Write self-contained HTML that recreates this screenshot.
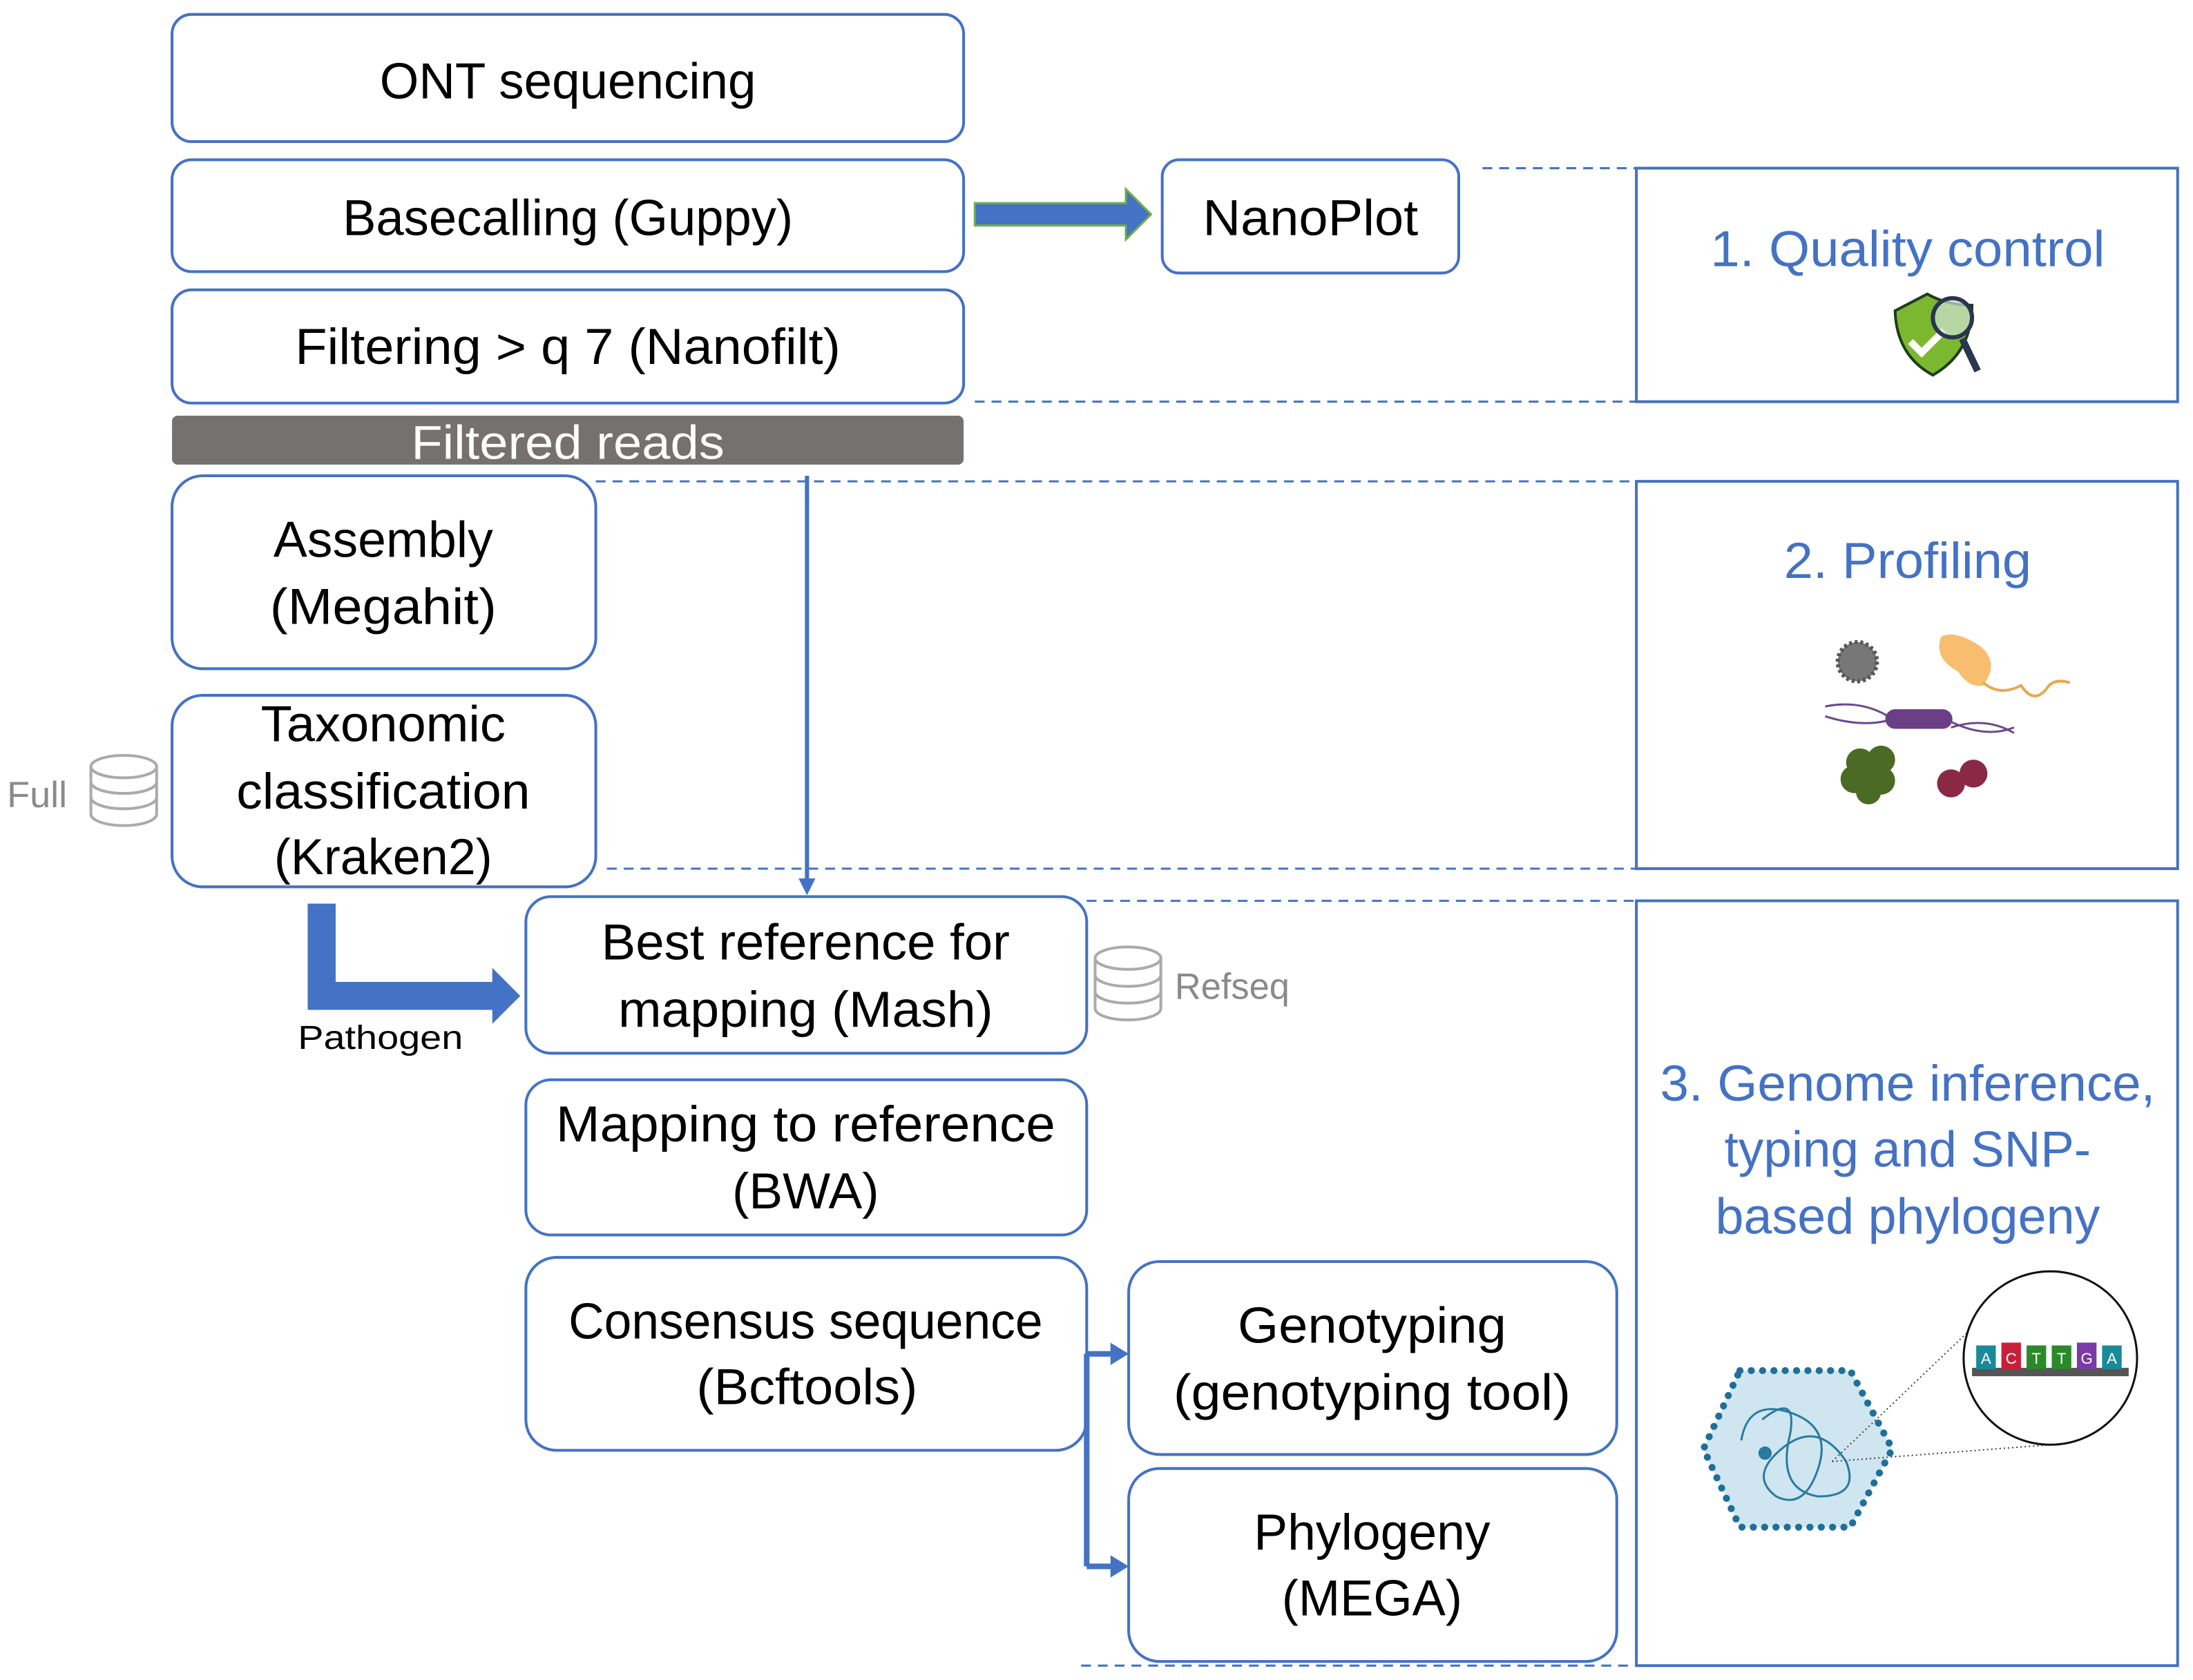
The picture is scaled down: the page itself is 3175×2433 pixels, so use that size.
<!DOCTYPE html>
<html><head><meta charset="utf-8"><style>
html,body{margin:0;padding:0;background:#fff;}
svg{display:block;}
text{font-family:"Liberation Sans",sans-serif;}
</style></head><body>
<svg width="3175" height="2433" viewBox="0 0 1568 1201" xmlns="http://www.w3.org/2000/svg">
<g fill="#fff" stroke="#4472C4" stroke-width="2">
<rect x="123" y="10" width="566" height="91" rx="14"/>
<rect x="123" y="114" width="566" height="80" rx="14"/>
<rect x="123" y="207" width="566" height="81" rx="14"/>
<rect x="123" y="340" width="303" height="138" rx="22"/>
<rect x="123" y="497" width="303" height="137" rx="22"/>
<rect x="376" y="641" width="401" height="112" rx="18"/>
<rect x="376" y="772" width="401" height="111" rx="18"/>
<rect x="376" y="899" width="401" height="138" rx="22"/>
<rect x="807" y="902" width="349" height="138" rx="22"/>
<rect x="807" y="1050" width="349" height="138" rx="22"/>
<rect x="831" y="114" width="212" height="81" rx="12"/>
<rect x="1170" y="120" width="387" height="167" rx="0"/>
<rect x="1170" y="344" width="387" height="277" rx="0"/>
<rect x="1170" y="644" width="387" height="547" rx="0"/>
</g>
<rect x="123" y="297" width="566" height="35" rx="4" fill="#757171"/>
<g stroke="#4472C4" stroke-width="1.5" stroke-dasharray="7,5" fill="none">
<line x1="1060" y1="120" x2="1170" y2="120"/>
<line x1="697" y1="287" x2="1170" y2="287"/>
<line x1="426" y1="344" x2="1170" y2="344"/>
<line x1="434" y1="621" x2="1170" y2="621"/>
<line x1="777" y1="644" x2="1170" y2="644"/>
<line x1="773" y1="1191" x2="1170" y2="1191"/>
</g>
<path d="M697,145 L805,145 L805,135 L823,153 L805,171 L805,161 L697,161 z" fill="#4472C4" stroke="#70AD47" stroke-width="1.5"/>
<line x1="577" y1="340" x2="577" y2="630" stroke="#4472C4" stroke-width="3"/>
<path d="M571,628 L583,628 L577,640 z" fill="#4472C4"/>
<path d="M220,646 L240,646 L240,702 L352,702 L352,692 L372,712 L352,732 L352,722 L220,722 z" fill="#4472C4"/>
<path d="M777,968 L777,1120" stroke="#4472C4" stroke-width="4" fill="none"/>
<path d="M777,968 L796,968" stroke="#4472C4" stroke-width="4"/>
<path d="M794,960 L807,968 L794,976 z" fill="#4472C4"/>
<path d="M777,1120 L796,1120" stroke="#4472C4" stroke-width="4"/>
<path d="M794,1112 L807,1120 L794,1128 z" fill="#4472C4"/>
<g fill="#000" font-size="36" text-anchor="middle">
<text x="406" y="70" textLength="269" lengthAdjust="spacingAndGlyphs">ONT sequencing</text>
<text x="406" y="168" textLength="322" lengthAdjust="spacingAndGlyphs">Basecalling (Guppy)</text>
<text x="406" y="260" textLength="390" lengthAdjust="spacingAndGlyphs">Filtering &gt; q 7 (Nanofilt)</text>
<text x="274" y="398" textLength="157" lengthAdjust="spacingAndGlyphs">Assembly</text>
<text x="274" y="446" textLength="162" lengthAdjust="spacingAndGlyphs">(Megahit)</text>
<text x="274" y="530" textLength="175" lengthAdjust="spacingAndGlyphs">Taxonomic</text>
<text x="274" y="578" textLength="210" lengthAdjust="spacingAndGlyphs">classification</text>
<text x="274" y="625" textLength="156" lengthAdjust="spacingAndGlyphs">(Kraken2)</text>
<text x="576" y="686" textLength="292" lengthAdjust="spacingAndGlyphs">Best reference for</text>
<text x="576" y="734" textLength="268" lengthAdjust="spacingAndGlyphs">mapping (Mash)</text>
<text x="576" y="816" textLength="357" lengthAdjust="spacingAndGlyphs">Mapping to reference</text>
<text x="576" y="864" textLength="105" lengthAdjust="spacingAndGlyphs">(BWA)</text>
<text x="576" y="957" textLength="339" lengthAdjust="spacingAndGlyphs">Consensus sequence</text>
<text x="577" y="1004" textLength="158" lengthAdjust="spacingAndGlyphs">(Bcftools)</text>
<text x="981" y="960" textLength="192" lengthAdjust="spacingAndGlyphs">Genotyping</text>
<text x="981" y="1008" textLength="284" lengthAdjust="spacingAndGlyphs">(genotyping tool)</text>
<text x="981" y="1108" textLength="169" lengthAdjust="spacingAndGlyphs">Phylogeny</text>
<text x="981" y="1155" textLength="129" lengthAdjust="spacingAndGlyphs">(MEGA)</text>
<text x="937" y="168" textLength="154" lengthAdjust="spacingAndGlyphs">NanoPlot</text>
</g>
<text x="406" y="328" font-size="34" fill="#fff" text-anchor="middle" textLength="224" lengthAdjust="spacingAndGlyphs">Filtered reads</text>
<g fill="#4472C4" font-size="36" text-anchor="middle">
<text x="1364" y="190" textLength="282" lengthAdjust="spacingAndGlyphs">1. Quality control</text>
<text x="1364" y="413" textLength="177" lengthAdjust="spacingAndGlyphs">2. Profiling</text>
<text x="1364" y="787" textLength="354" lengthAdjust="spacingAndGlyphs">3. Genome inference,</text>
<text x="1364" y="834" textLength="262" lengthAdjust="spacingAndGlyphs">typing and SNP-</text>
<text x="1364" y="882" textLength="275" lengthAdjust="spacingAndGlyphs">based phylogeny</text>
</g>
<text x="5" y="577" font-size="26" fill="#8a8a8a" textLength="43" lengthAdjust="spacingAndGlyphs">Full</text>
<text x="840" y="714" font-size="26" fill="#8a8a8a" textLength="82" lengthAdjust="spacingAndGlyphs">Refseq</text>
<text x="272" y="750" font-size="24" fill="#000" text-anchor="middle" textLength="118" lengthAdjust="spacingAndGlyphs">Pathogen</text>
<g fill="#fff" stroke="#aaa" stroke-width="2">
<path d="M65,548 v34 a23,8 0 0 0 47,0 v-34"/>
<ellipse cx="88.5" cy="548" rx="23.5" ry="8"/>
<path d="M65,559 a23,8 0 0 0 47,0 M65,570 a23,8 0 0 0 47,0" fill="none"/>
<path d="M783,685 v36 a23,8 0 0 0 47,0 v-36"/>
<ellipse cx="806.5" cy="685" rx="23.5" ry="8"/>
<path d="M783,697 a23,8 0 0 0 47,0 M783,709 a23,8 0 0 0 47,0" fill="none"/>
</g>
<path d="M1355,222 L1378,210 Q1392,218 1410,218 Q1410,252 1382,268 Q1356,254 1355,222 z" fill="#7CB82F" stroke="#1d3d1d" stroke-width="2"/>
<path d="M1366,244 L1374,252 L1390,236" stroke="#fff" stroke-width="5" fill="none"/>
<line x1="1403" y1="242" x2="1414" y2="265" stroke="#2a3550" stroke-width="5"/>
<circle cx="1396" cy="227" r="14" fill="#cfe3d6" fill-opacity="0.7" stroke="#2a3550" stroke-width="3"/>
<circle cx="1328" cy="473" r="14" fill="#777" stroke="#555" stroke-width="3" stroke-dasharray="2,2"/>
<path d="M1388,455 Q1398,450 1416,462 Q1430,474 1418,490 Q1408,492 1400,480 Q1382,470 1388,455z" fill="#F8BD6E"/>
<path d="M1418,488 Q1430,498 1445,490 Q1455,505 1465,490 Q1470,485 1480,488" stroke="#E8A850" stroke-width="2" fill="none"/>
<path d="M1305,505 Q1330,500 1350,512 M1305,512 Q1330,520 1350,515 M1395,520 Q1420,512 1440,524 M1395,516 Q1420,528 1440,520" stroke="#6a4a8a" stroke-width="1.5" fill="none"/>
<rect x="1348" y="507" width="48" height="14" rx="7" fill="#6B3F86"/>
<g fill="#4b6a24"><circle cx="1330" cy="545" r="10"/><circle cx="1345" cy="543" r="10"/><circle cx="1326" cy="557" r="10"/><circle cx="1345" cy="558" r="10"/><circle cx="1336" cy="566" r="9"/><circle cx="1336" cy="552" r="9"/></g>
<g fill="#8B2845"><circle cx="1395" cy="560" r="10"/><circle cx="1411" cy="553" r="10"/></g>
<polygon points="1244,980 1323,980 1353,1036 1323,1092 1244,1092 1218,1036" fill="#cfe6f0" stroke="#1f6f99" stroke-width="5" stroke-dasharray="0.1,8" stroke-linecap="round"/>
<g stroke="#2a7aa0" stroke-width="1.5" fill="none">
<path d="M1245,1030 Q1250,1000 1280,1010 Q1310,1020 1300,1050 Q1290,1080 1270,1070 Q1250,1055 1275,1035 Q1300,1015 1320,1045 Q1330,1070 1300,1070 Q1270,1065 1280,1025 Q1285,995 1260,1015"/>
<circle cx="1262" cy="1039" r="4" fill="#2a7aa0"/>
</g>
<line x1="1310" y1="1045" x2="1420" y2="940" stroke="#444" stroke-width="1" stroke-dasharray="1,2"/>
<line x1="1310" y1="1045" x2="1466" y2="1033" stroke="#444" stroke-width="1" stroke-dasharray="1,2"/>
<circle cx="1466" cy="971" r="62" fill="#fff" stroke="#111" stroke-width="1.5"/>
<rect x="1410" y="978" width="112" height="6" fill="#555"/>
<g font-size="11" text-anchor="middle" fill="#fff">
<rect x="1413" y="962" width="14" height="17" fill="#1a8a9a"/><text x="1420" y="975">A</text>
<rect x="1431" y="960" width="14" height="19" fill="#c8203a"/><text x="1438" y="975">C</text>
<rect x="1449" y="962" width="14" height="17" fill="#2a8a2a"/><text x="1456" y="975">T</text>
<rect x="1467" y="962" width="14" height="17" fill="#2a8a2a"/><text x="1474" y="975">T</text>
<rect x="1485" y="960" width="14" height="19" fill="#7a3aa8"/><text x="1492" y="975">G</text>
<rect x="1503" y="962" width="14" height="17" fill="#1a8a9a"/><text x="1510" y="975">A</text>
</g>
</svg>
</body></html>
